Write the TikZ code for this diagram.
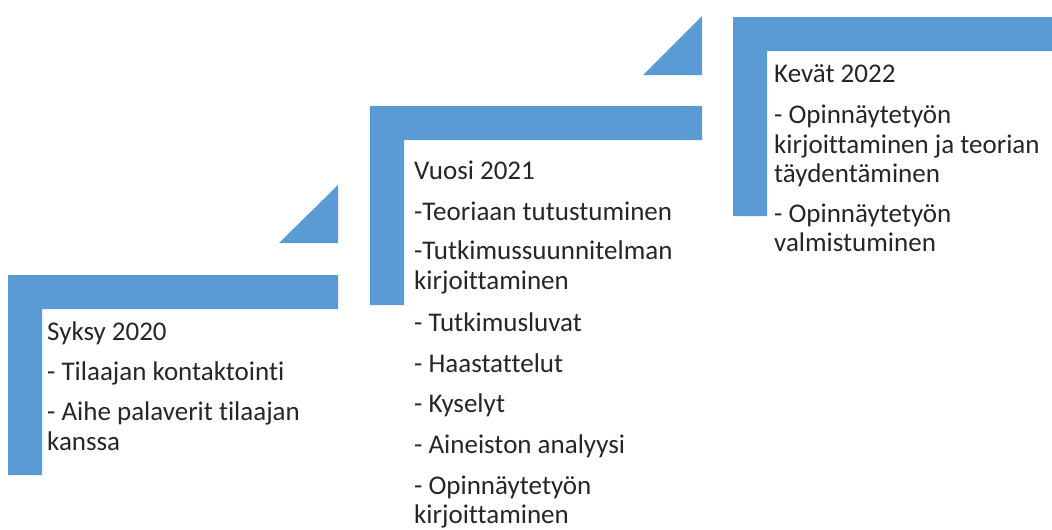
\documentclass[tikz,border=0pt]{standalone}
\usepackage{fontspec}
\setmainfont[Ligatures={NoCommon}]{Carlito}
\definecolor{accentblue}{HTML}{5B9BD5}
\definecolor{txtgray}{HTML}{262626}
\begin{document}
\begin{tikzpicture}[x=1pt,y=-1pt,
  band/.style={fill=accentblue,draw=none},
  ln/.style={anchor=base west,inner sep=0pt,text=txtgray,font=\fontsize{27}{30}\selectfont}]
\useasboundingbox (0,0) rectangle (1052,530);
% L-shaped bands
\path[band] (8,275) -- (338,275) -- (338,309) -- (42,309) -- (42,475) -- (8,475) -- cycle;
\path[band] (370,106) -- (702,106) -- (702,140) -- (404,140) -- (404,305) -- (370,305) -- cycle;
\path[band] (733,17) -- (1052,17) -- (1052,51) -- (767,51) -- (767,216) -- (733,216) -- cycle;
% triangles
\path[band] (279,243) -- (338,243) -- (338,185) -- cycle;
\path[band] (643,75) -- (702,75) -- (702,16) -- cycle;
% block 1
\node[ln] (a1) at (47,340) {Syksy 2020};
\node[ln] (a2) at (47,380) {- Tilaajan kontaktointi};
\node[ln] (a3) at (47,420) {- Aihe palaverit tilaajan};
\node[ln] (a4) at (47,450) {kanssa};
% block 2
\node[ln] (b1) at (414,179) {Vuosi 2021};
\node[ln] (b2) at (414,220) {-Teoriaan tutustuminen};
\node[ln] (b3) at (414,259) {-Tutkimussuunnitelman};
\node[ln] (b4) at (414,289) {kirjoittaminen};
\node[ln] (b5) at (414,331) {- Tutkimusluvat};
\node[ln] (b6) at (414,372) {- Haastattelut};
\node[ln] (b7) at (414,412) {- Kyselyt};
\node[ln] (b8) at (414,453) {- Aineiston analyysi};
\node[ln] (b9) at (414,494) {- Opinnäytetyön};
\node[ln] (b10) at (414,523) {kirjoittaminen};
% block 3
\node[ln] (c1) at (774,82) {Kevät 2022};
\node[ln] (c2) at (774,123) {- Opinnäytetyön};
\node[ln] (c3) at (774,153) {kirjoittaminen ja teorian};
\node[ln] (c4) at (774,182) {täydentäminen};
\node[ln] (c5) at (774,222) {- Opinnäytetyön};
\node[ln] (c6) at (774,251) {valmistuminen};
\end{tikzpicture}
\end{document}
